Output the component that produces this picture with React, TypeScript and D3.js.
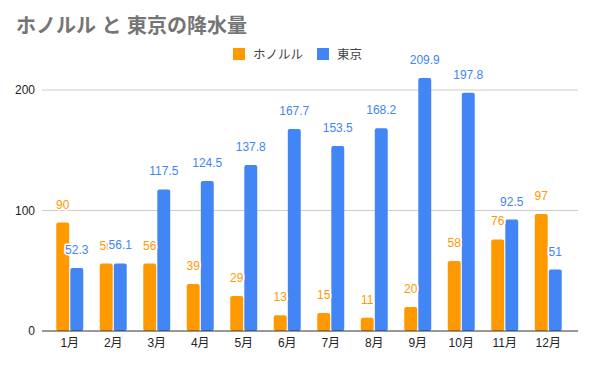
import * as d3 from "d3";

// 月別降水量 (mm)
const months = ["1月", "2月", "3月", "4月", "5月", "6月", "7月", "8月", "9月", "10月", "11月", "12月"];
const honolulu = [90, 56, 56, 39, 29, 13, 15, 11, 20, 58, 76, 97];
const tokyo = [52.3, 56.1, 117.5, 124.5, 137.8, 167.7, 153.5, 168.2, 209.9, 197.8, 92.5, 51];
const seriesNames = ["ホノルル", "東京"];
const yTicks = [0, 100, 200];

const colors = ["#ff9900", "#4285f4"];
const font = "Arial, 'Liberation Sans', 'Noto Sans CJK JP', sans-serif";

export default function App() {
    const width = 595;
    const height = 365;
    const plotLeft = 42;
    const plotRight = 578;

    const x0 = d3.scaleBand(months, [48, 570]).paddingInner(0.38).paddingOuter(0.19);
    const x1 = d3.scaleBand(seriesNames, [0, x0.bandwidth()]).paddingInner(0.08);
    const y = d3.scaleLinear([0, 200], [331, 90]);

    const series = [honolulu, tokyo];

    return (
        <svg
            width={width}
            height={height}
            style={{ position: "absolute", left: 0, top: 0, background: "#fff" }}
            fontFamily={font}
        >
            <text x={16} y={33} fontSize={20} fontWeight="bold" fill="#757575">
                ホノルル と 東京の降水量
            </text>

            {/* legend */}
            <g fontSize={12.5} fill="#444">
                <rect x={233} y={48} width={12} height={12} fill={colors[0]} />
                <text x={253} y={58.5}>{seriesNames[0]}</text>
                <rect x={317} y={48} width={12} height={12} fill={colors[1]} />
                <text x={337} y={58.5}>{seriesNames[1]}</text>
            </g>

            {/* gridlines + y labels */}
            {yTicks.map((t) => (
                <g key={t}>
                    {t !== 0 && (
                        <line x1={plotLeft} x2={plotRight} y1={y(t)} y2={y(t)} stroke="#cccccc" strokeWidth={1} />
                    )}
                    <text x={35} y={y(t)} dy="0.35em" textAnchor="end" fontSize={12} fill="#222">
                        {t}
                    </text>
                </g>
            ))}

            {/* bars */}
            {series.map((vals, si) => (
                <g key={si} fill={colors[si]}>
                    {vals.map((v, i) => (
                        <rect
                            key={i}
                            x={x0(months[i])! + x1(seriesNames[si])!}
                            y={y(v)}
                            width={x1.bandwidth()}
                            height={y(0) - y(v)}
                            rx={2}
                        />
                    ))}
                </g>
            ))}

            {/* baseline */}
            <line x1={plotLeft} x2={plotRight} y1={y(0)} y2={y(0)} stroke="#333" strokeWidth={1} />

            {/* x labels */}
            {months.map((m) => (
                <text
                    key={m}
                    x={x0(m)! + x0.bandwidth() / 2}
                    y={347}
                    textAnchor="middle"
                    fontSize={12}
                    fill="#222"
                >
                    {m}
                </text>
            ))}

            {/* value labels (東京 drawn last, its halo covers ホノルル where they meet) */}
            {series.map((vals, si) => (
                <g key={si} fontSize={12} fill={colors[si]} textAnchor="middle">
                    {vals.map((v, i) => (
                        <text
                            key={i}
                            x={x0(months[i])! + x1(seriesNames[si])! + x1.bandwidth() / 2}
                            y={y(v) - 14}
                            stroke="#fff"
                            strokeWidth={3}
                            paintOrder="stroke"
                            strokeLinejoin="round"
                        >
                            {v}
                        </text>
                    ))}
                </g>
            ))}
        </svg>
    );
}
